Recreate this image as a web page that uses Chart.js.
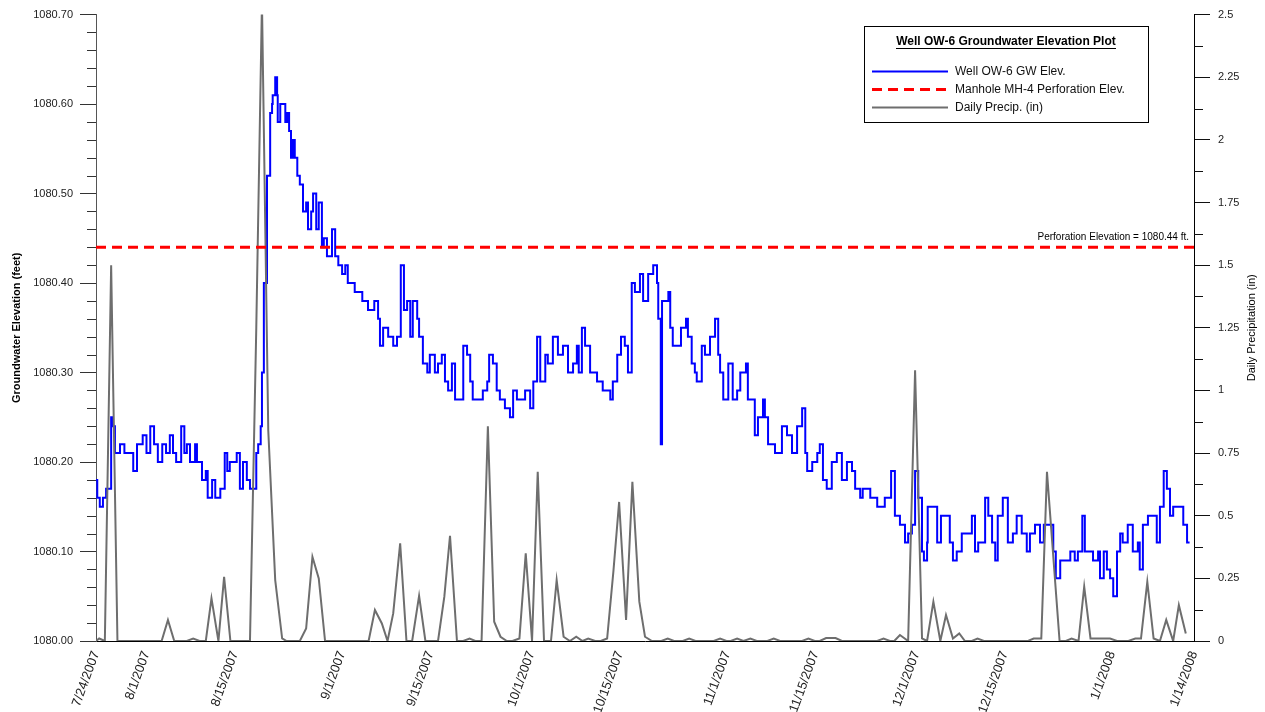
<!DOCTYPE html>
<html>
<head>
<meta charset="utf-8">
<title>Well OW-6 Groundwater Elevation Plot</title>
<script src="https://cdn.jsdelivr.net/npm/chart.js@4.4.1/dist/chart.umd.min.js"></script>
<style>
  html, body { margin: 0; padding: 0; background: #fff; }
  #wrap { width: 1265px; height: 712px; }
</style>
</head>
<body>
<div id="wrap"><canvas id="chart"></canvas></div>
<script>
// x values are days after 7/24/2007
var tickDays = [0, 8, 22, 39, 53, 69, 83, 100, 114, 130, 144, 161, 174];
var tickLabels = ['7/24/2007', '8/1/2007', '8/15/2007', '9/1/2007', '9/15/2007', '10/1/2007',
  '10/15/2007', '11/1/2007', '11/15/2007', '12/1/2007', '12/15/2007', '1/1/2008', '1/14/2008'];

// groundwater record (ft)
var gwDays = [
  0.0, 0.2, 0.6, 1.1, 1.6, 2.4, 2.7, 3.0, 3.8, 4.5,
  5.9, 6.5, 7.4, 8.0, 8.6, 9.2, 9.8, 10.5, 11.1, 11.7,
  12.2, 12.7, 13.5, 14.0, 14.4, 14.9, 15.7, 16.0, 16.8, 17.4,
  17.7, 18.4, 18.9, 19.7, 20.4, 20.8, 21.2, 22.3, 22.8, 23.3,
  23.9, 24.4, 25.4, 25.7, 26.1, 26.3, 26.6, 27.1, 27.6, 27.9,
  28.0, 28.4, 28.7, 28.8, 29.2, 30.0, 30.3, 30.6, 30.9, 31.2,
  31.5, 31.9, 32.3, 32.8, 33.3, 33.6, 34.1, 34.4, 34.9, 35.3,
  35.8, 36.1, 36.6, 37.4, 37.9, 38.4, 39.0, 39.5, 39.9, 41.0,
  42.2, 43.1, 44.1, 44.7, 45.0, 45.5, 46.3, 47.1, 47.7, 48.3,
  48.8, 49.3, 49.8, 50.2, 50.9, 51.2, 51.8, 52.5, 52.9, 53.7,
  54.2, 54.8, 55.3, 55.8, 56.4, 56.9, 58.2, 58.8, 59.3, 59.7,
  61.3, 62.0, 62.3, 62.9, 63.5, 64.0, 64.8, 65.6, 66.1, 66.7,
  68.0, 68.8, 69.3, 69.9, 70.4, 71.2, 71.6, 72.4, 73.2, 74.0,
  74.8, 75.6, 76.2, 76.5, 77.0, 77.5, 78.3, 79.4, 80.3, 81.5,
  81.9, 82.6, 83.2, 83.8, 84.3, 84.9, 85.4, 86.2, 86.7, 87.5,
  88.3, 88.9, 89.1, 89.5, 89.7, 90.7, 91.0, 91.4, 92.7, 93.5,
  93.8, 94.4, 94.9, 95.2, 96.0, 96.5, 97.3, 98.1, 98.6, 98.9,
  99.4, 100.2, 100.9, 101.6, 102.1, 103.0, 103.3, 104.4, 104.9, 105.7,
  106.0, 106.5, 107.6, 108.7, 109.5, 110.3, 111.1, 111.9, 112.4, 112.7,
  113.5, 114.3, 114.7, 115.2, 115.8, 116.6, 117.4, 118.2, 119.0, 119.8,
  120.3, 121.1, 121.5, 122.7, 123.8, 125.0, 126.0, 126.6, 127.4, 128.2,
  128.7, 129.3, 129.8, 130.3, 130.9, 131.2, 131.7, 131.8, 133.3, 133.9,
  135.3, 135.8, 136.4, 137.2, 138.8, 139.3, 139.8, 140.9, 141.4, 142.0,
  142.5, 142.9, 143.7, 144.5, 145.3, 145.9, 146.7, 147.5, 148.0, 148.8,
  149.6, 150.2, 151.7, 152.1, 152.8, 154.4, 155.1, 155.6, 156.3, 156.7,
  158.0, 158.8, 159.1, 159.7, 160.2, 160.7, 161.2, 161.8, 162.3, 162.7,
  163.5, 164.3, 165.1, 165.4, 165.9, 166.7, 168.1, 168.6, 169.2, 169.7,
  170.2, 170.7, 172.3, 172.9, 173.3
];
var gwElev = [
  1080.18, 1080.16, 1080.15, 1080.16, 1080.17, 1080.25, 1080.24, 1080.21, 1080.22, 1080.21,
  1080.19, 1080.22, 1080.23, 1080.21, 1080.24, 1080.22, 1080.20, 1080.22, 1080.21, 1080.23,
  1080.21, 1080.20, 1080.24, 1080.21, 1080.22, 1080.20, 1080.22, 1080.20, 1080.18, 1080.19,
  1080.16, 1080.18, 1080.16, 1080.17, 1080.21, 1080.19, 1080.20, 1080.21, 1080.17, 1080.20,
  1080.18, 1080.17, 1080.21, 1080.22, 1080.24, 1080.30, 1080.40, 1080.52, 1080.59, 1080.60,
  1080.61, 1080.63, 1080.61, 1080.58, 1080.60, 1080.58, 1080.59, 1080.57, 1080.54, 1080.56,
  1080.54, 1080.52, 1080.51, 1080.48, 1080.49, 1080.46, 1080.48, 1080.50, 1080.46, 1080.49,
  1080.44, 1080.45, 1080.43, 1080.46, 1080.43, 1080.42, 1080.41, 1080.42, 1080.40, 1080.39,
  1080.38, 1080.37, 1080.38, 1080.36, 1080.33, 1080.35, 1080.34, 1080.33, 1080.34, 1080.42,
  1080.37, 1080.38, 1080.34, 1080.38, 1080.36, 1080.34, 1080.31, 1080.30, 1080.32, 1080.30,
  1080.31, 1080.32, 1080.29, 1080.28, 1080.31, 1080.27, 1080.33, 1080.32, 1080.29, 1080.27,
  1080.28, 1080.29, 1080.32, 1080.31, 1080.28, 1080.27, 1080.26, 1080.25, 1080.28, 1080.27,
  1080.28, 1080.26, 1080.29, 1080.34, 1080.29, 1080.32, 1080.31, 1080.34, 1080.32, 1080.33,
  1080.30, 1080.31, 1080.33, 1080.30, 1080.35, 1080.33, 1080.30, 1080.29, 1080.28, 1080.27,
  1080.29, 1080.32, 1080.34, 1080.33, 1080.30, 1080.40, 1080.39, 1080.41, 1080.38, 1080.41,
  1080.42, 1080.40, 1080.36, 1080.22, 1080.38, 1080.39, 1080.35, 1080.33, 1080.35, 1080.36,
  1080.34, 1080.31, 1080.30, 1080.29, 1080.33, 1080.32, 1080.34, 1080.36, 1080.32, 1080.30,
  1080.27, 1080.31, 1080.27, 1080.28, 1080.30, 1080.31, 1080.27, 1080.23, 1080.25, 1080.27,
  1080.25, 1080.22, 1080.21, 1080.24, 1080.23, 1080.21, 1080.24, 1080.26, 1080.21, 1080.19,
  1080.20, 1080.21, 1080.22, 1080.18, 1080.17, 1080.20, 1080.21, 1080.18, 1080.20, 1080.19,
  1080.17, 1080.16, 1080.17, 1080.16, 1080.15, 1080.16, 1080.19, 1080.14, 1080.13, 1080.11,
  1080.12, 1080.13, 1080.19, 1080.16, 1080.10, 1080.09, 1080.11, 1080.15, 1080.11, 1080.14,
  1080.11, 1080.09, 1080.10, 1080.12, 1080.14, 1080.10, 1080.11, 1080.16, 1080.14, 1080.11,
  1080.09, 1080.14, 1080.16, 1080.11, 1080.12, 1080.14, 1080.12, 1080.10, 1080.12, 1080.13,
  1080.11, 1080.13, 1080.10, 1080.07, 1080.09, 1080.10, 1080.09, 1080.10, 1080.14, 1080.10,
  1080.09, 1080.10, 1080.07, 1080.10, 1080.08, 1080.07, 1080.05, 1080.10, 1080.12, 1080.11,
  1080.13, 1080.10, 1080.11, 1080.08, 1080.13, 1080.14, 1080.11, 1080.15, 1080.19, 1080.17,
  1080.14, 1080.15, 1080.13, 1080.11, 1080.11
];

// daily precipitation (in)
var precipDays = [
  0.0, 0.5, 1.4, 2.4, 3.4, 10.4, 11.4, 12.4, 14.4, 15.4,
  16.4, 17.4, 18.3, 19.4, 20.3, 21.3, 24.4, 25.4, 26.3, 27.3,
  28.4, 29.5, 30.2, 32.3, 33.3, 34.3, 35.3, 36.3, 43.2, 44.2,
  45.3, 46.2, 47.1, 48.2, 49.2, 50.1, 51.2, 52.2, 54.2, 55.2,
  56.1, 57.2, 58.2, 59.2, 60.1, 61.1, 62.1, 63.1, 64.1, 65.1,
  66.0, 67.1, 68.1, 69.1, 70.0, 71.0, 72.1, 73.0, 74.1, 75.1,
  76.1, 77.1, 78.0, 79.1, 80.0, 81.0, 82.0, 82.9, 84.0, 85.0,
  86.1, 87.0, 88.1, 89.6, 90.6, 91.6, 93.0, 94.0, 95.0, 97.9,
  98.9, 99.9, 100.6, 101.6, 102.6, 103.7, 104.7, 106.4, 107.4, 108.4,
  111.9, 112.9, 113.9, 114.7, 115.7, 117.2, 118.2, 123.8, 124.8, 125.8,
  126.5, 127.4, 128.7, 129.8, 130.9, 131.7, 132.7, 133.8, 134.7, 135.8,
  136.8, 137.7, 138.8, 139.7, 140.7, 147.7, 148.6, 149.8, 150.7, 152.7,
  153.7, 154.6, 155.7, 156.6, 157.6, 158.6, 159.6, 160.7, 161.8, 163.6,
  164.7, 165.6, 166.6, 167.6, 168.6, 169.6, 170.7, 171.6, 172.7
];
var precipIn = [
  0, 0.01, 0, 1.5, 0, 0, 0.084, 0, 0, 0.01,
  0, 0, 0.17, 0, 0.256, 0, 0, 1.25, 2.55, 0.84,
  0.243, 0.01, 0, 0, 0.05, 0.336, 0.25, 0, 0, 0.124,
  0.07, 0, 0.11, 0.39, 0, 0, 0.18, 0, 0, 0.177,
  0.42, 0, 0, 0.01, 0, 0, 0.857, 0.077, 0.017, 0,
  0, 0.01, 0.35, 0, 0.675, 0, 0, 0.243, 0.017, 0,
  0.017, 0, 0.01, 0, 0, 0.01, 0.28, 0.555, 0.084, 0.635,
  0.157, 0.017, 0, 0, 0.01, 0, 0, 0.01, 0, 0,
  0.01, 0, 0, 0.01, 0, 0.01, 0, 0, 0.01, 0,
  0, 0.01, 0, 0, 0.012, 0.012, 0, 0, 0.01, 0,
  0, 0.024, 0, 1.08, 0.01, 0, 0.157, 0, 0.104, 0.01,
  0.03, 0, 0, 0.01, 0, 0, 0.01, 0.01, 0.675, 0,
  0, 0.01, 0, 0.217, 0.01, 0.01, 0.01, 0.01, 0, 0,
  0.01, 0.01, 0.236, 0.01, 0, 0.084, 0, 0.143, 0.03
];

var perfElev = 1080.44;
var perfDays = [0, 174];

var FONT = '"Liberation Sans", Arial, Helvetica, sans-serif';

function pts(xs, ys) {
  return xs.map(function (x, i) { return {x: x, y: ys[i]}; });
}

// minor tick marks between the labelled ones
function minorTicks(ctx, scale, step, every, x0, len) {
  var n = Math.round((scale.max - scale.min) / step);
  for (var i = 0; i <= n; i++) {
    if (i % every === 0) continue;
    var py = Math.round(scale.getPixelForValue(scale.min + i * step)) + 0.5;
    ctx.beginPath();
    ctx.moveTo(x0, py);
    ctx.lineTo(x0 + len, py);
    ctx.stroke();
  }
}

var overlay = {
  id: 'overlay',
  afterDraw: function (chart) {
    var ctx = chart.ctx, area = chart.chartArea;
    var yL = chart.scales.y, yR = chart.scales.y2;
    ctx.save();

    ctx.lineWidth = 1;
    ctx.strokeStyle = '#333';
    minorTicks(ctx, yL, 0.02, 5, area.left, -9);
    ctx.strokeStyle = '#111';
    minorTicks(ctx, yR, 0.125, 2, area.right, 9);

    // label on the perforation line
    ctx.fillStyle = '#000';
    ctx.font = '10px ' + FONT;
    ctx.textAlign = 'right';
    ctx.textBaseline = 'middle';
    ctx.fillText('Perforation Elevation = 1080.44 ft.', area.right - 5, yL.getPixelForValue(perfElev) - 10);

    // right axis title, reads bottom to top
    ctx.save();
    ctx.translate(1252, (area.top + area.bottom) / 2);
    ctx.rotate(-Math.PI / 2);
    ctx.font = '11px ' + FONT;
    ctx.textAlign = 'center';
    ctx.fillText('Daily Precipitation (in)', 0, 0);
    ctx.restore();

    // legend box
    var bx = 864, by = 26, bw = 284, bh = 96;
    ctx.fillStyle = '#fff';
    ctx.fillRect(bx, by, bw, bh);
    ctx.strokeStyle = '#000';
    ctx.lineWidth = 1;
    ctx.strokeRect(bx + 0.5, by + 0.5, bw, bh);

    var title = 'Well OW-6 Groundwater Elevation Plot';
    ctx.fillStyle = '#000';
    ctx.font = 'bold 12px ' + FONT;
    ctx.textAlign = 'center';
    ctx.fillText(title, bx + bw / 2, 42);
    var tw = ctx.measureText(title).width;
    ctx.fillRect(Math.round(bx + bw / 2 - tw / 2), 48, Math.round(tw), 1);

    ctx.font = '12px ' + FONT;
    ctx.textAlign = 'left';
    chart.data.datasets.forEach(function (ds, i) {
      var ly = 71 + i * 18;
      ctx.strokeStyle = ds.borderColor;
      ctx.lineWidth = ds.borderWidth;
      ctx.setLineDash(ds.borderDash || []);
      ctx.beginPath();
      ctx.moveTo(872, ly + 0.5);
      ctx.lineTo(948, ly + 0.5);
      ctx.stroke();
      ctx.setLineDash([]);
      ctx.fillStyle = '#111';
      ctx.fillText(ds.label, 955, ly + 1);
    });
    ctx.restore();
  }
};

new Chart(document.getElementById('chart'), {
  type: 'line',
  data: {
    datasets: [
      {
        label: 'Well OW-6 GW Elev.',
        data: pts(gwDays, gwElev),
        yAxisID: 'y',
        borderColor: '#0000ff',
        borderWidth: 2,
        stepped: true,
        pointRadius: 0,
        order: 3
      },
      {
        label: 'Manhole MH-4 Perforation Elev.',
        data: pts(perfDays, [perfElev, perfElev]),
        yAxisID: 'y',
        borderColor: '#ff0000',
        borderWidth: 3,
        borderDash: [10, 6],
        pointRadius: 0,
        order: 1
      },
      {
        label: 'Daily Precip. (in)',
        data: pts(precipDays, precipIn),
        yAxisID: 'y2',
        borderColor: '#6e6e6e',
        borderWidth: 2,
        pointRadius: 0,
        order: 2
      }
    ]
  },
  options: {
    responsive: true,
    maintainAspectRatio: false,
    animation: false,
    layout: {padding: {top: 14, left: 0, right: 0, bottom: 0}},
    elements: {line: {tension: 0}},
    plugins: {legend: {display: false}, tooltip: {enabled: false}},
    scales: {
      x: {
        type: 'linear',
        min: 0,
        max: 174,
        afterBuildTicks: function (s) {
          s.ticks = tickDays.map(function (d) { return {value: d}; });
        },
        afterFit: function (s) { s.height = 71; },
        grid: {display: false, drawTicks: false},
        border: {display: true, color: '#000', width: 1},
        ticks: {
          autoSkip: false,
          minRotation: 70,
          maxRotation: 70,
          padding: 8,
          color: '#222',
          font: {family: FONT, size: 13},
          callback: function (v, i) { return tickLabels[i]; }
        }
      },
      y: {
        position: 'left',
        min: 1080,
        max: 1080.7,
        afterFit: function (s) { s.width = 96; },
        grid: {drawOnChartArea: false, drawTicks: true, tickLength: 16, color: '#333'},
        border: {display: true, color: '#555', width: 1},
        ticks: {
          stepSize: 0.1,
          padding: 7,
          color: '#222',
          font: {family: FONT, size: 11},
          callback: function (v) { return v.toFixed(2); }
        },
        title: {
          display: true,
          text: 'Groundwater Elevation (feet)',
          color: '#000',
          font: {family: FONT, size: 11, weight: 'bold'},
          padding: {top: 10, bottom: 0}
        }
      },
      y2: {
        position: 'right',
        min: 0,
        max: 2.5,
        afterFit: function (s) { s.width = 71; },
        grid: {drawOnChartArea: false, drawTicks: true, tickLength: 16, color: '#111'},
        border: {display: true, color: '#000', width: 1},
        ticks: {
          stepSize: 0.25,
          padding: 8,
          color: '#222',
          font: {family: FONT, size: 11},
          callback: function (v) { return String(Math.round(v * 100) / 100); }
        }
      }
    }
  },
  plugins: [overlay]
});
</script>
</body>
</html>
